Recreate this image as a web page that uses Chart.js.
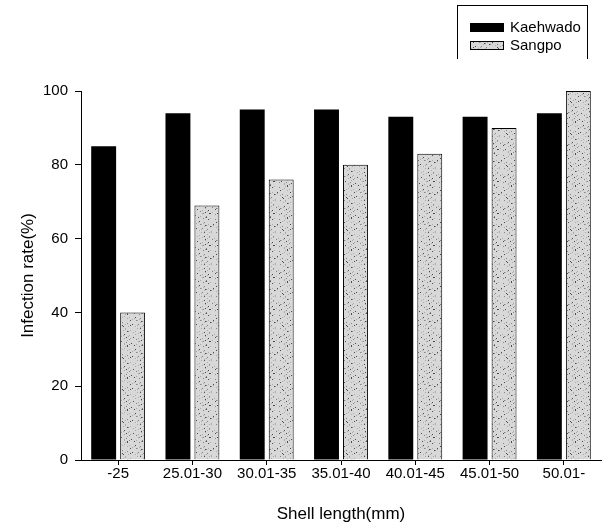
<!DOCTYPE html>
<html>
<head>
<meta charset="utf-8">
<script src="https://cdn.jsdelivr.net/npm/chart.js@4/dist/chart.umd.min.js"></script>
<style>
  html, body { margin: 0; padding: 0; background: #fff; }
  #wrap { position: relative; width: 603px; height: 525px; }
  #legend {
    position: absolute; left: 457px; top: 5px; width: 131px; height: 54px;
    border: 1px solid #000; border-bottom: none; box-sizing: border-box;
    font-family: "Liberation Sans", Arial, sans-serif; font-size: 15px; color: #000;
  }
  .item { position: absolute; left: 12px; height: 16px; line-height: 16px; }
  .sw { display: inline-block; width: 34px; height: 9px; vertical-align: middle; margin-right: 6px; box-sizing: border-box; position: relative; top: -1px; }
</style>
</head>
<body>
<div id="wrap">
  <canvas id="mycanvas" width="603" height="525"></canvas>
  <div id="legend">
    <div class="item" style="top:13px"><span class="sw" style="background:#000"></span>Kaehwado</div>
    <div class="item" style="top:31px"><span class="sw" id="sangpoSwatch" style="border:1px solid #000;background:#ddd"></span>Sangpo</div>
  </div>
</div>
<script>
const categories = ['-25', '25.01-30', '30.01-35', '35.01-40', '40.01-45', '45.01-50', '50.01-'];
const kaehwado = [85, 94, 95, 95, 93, 93, 94];
const sangpo = [40, 69, 76, 80, 83, 90, 100];
const yTicks = [0, 20, 40, 60, 80, 100];

// stippled grey fill like the printed figure
function stipple() {
    let c = document.createElement('canvas');
    c.width = 32; c.height = 32;
    let g = c.getContext('2d');
    g.fillStyle = '#d8d8d8';
    g.fillRect(0, 0, 32, 32);
    let s = 11;
    for (let i = 0; i < 460; i++) {
        s = (s * 1103515245 + 12345) % 2147483648;
        let x = (s >> 8) % 32;
        s = (s * 1103515245 + 12345) % 2147483648;
        let y = (s >> 8) % 32;
        g.fillStyle = (i % 4 === 0) ? '#4a4a4a' : (i % 2 === 0 ? '#858585' : '#aaaaaa');
        g.fillRect(x, y, 1, 1);
    }
    return c;
}

document.addEventListener('DOMContentLoaded', function() {
    let tex = stipple();
    let ctx = document.getElementById('mycanvas').getContext('2d');
    let pattern = ctx.createPattern(tex, 'repeat');
    document.getElementById('sangpoSwatch').style.background = 'url(' + tex.toDataURL() + ')';

    const fam = '"Liberation Sans", Arial, sans-serif';

    new Chart(ctx, {
        type: 'bar',
        data: {
            labels: categories,
            datasets: [{
                label: 'Kaehwado',
                data: kaehwado,
                backgroundColor: '#000',
                borderWidth: 0
            }, {
                label: 'Sangpo',
                data: sangpo,
                backgroundColor: pattern,
                borderColor: '#000',
                borderWidth: 1
            }]
        },
        options: {
            responsive: false,
            animation: false,
            layout: { padding: { top: 91, right: 2, bottom: 0, left: 0 } },
            categoryPercentage: 0.78,
            barPercentage: 0.86,
            plugins: { legend: { display: false }, tooltip: { enabled: false } },
            scales: {
                x: {
                    grid: { display: true, drawOnChartArea: false, offset: false, tickLength: 5, color: '#000' },
                    border: { color: '#000', width: 1 },
                    ticks: { color: '#000', font: { family: fam, size: 15 }, padding: 0, maxRotation: 0 },
                    title: { display: true, text: 'Shell length(mm)', color: '#000', font: { family: fam, size: 17 }, padding: { top: 16, bottom: 0 } },
                    afterFit: function(scale) { scale.height = 65; }
                },
                y: {
                    min: 0, max: 100,
                    afterBuildTicks: function(scale) { scale.ticks = yTicks.map(v => ({ value: v })); },
                    grid: { display: true, drawOnChartArea: false, tickLength: 6, color: '#000' },
                    border: { color: '#000', width: 1 },
                    ticks: { color: '#000', font: { family: fam, size: 15 }, padding: 7 },
                    title: { display: true, text: 'Infection rate(%)', color: '#000', font: { family: fam, size: 17 }, padding: { top: 18, bottom: 4 } },
                    afterFit: function(scale) { scale.width = 81; }
                }
            }
        }
    });
});
</script>
</body>
</html>
